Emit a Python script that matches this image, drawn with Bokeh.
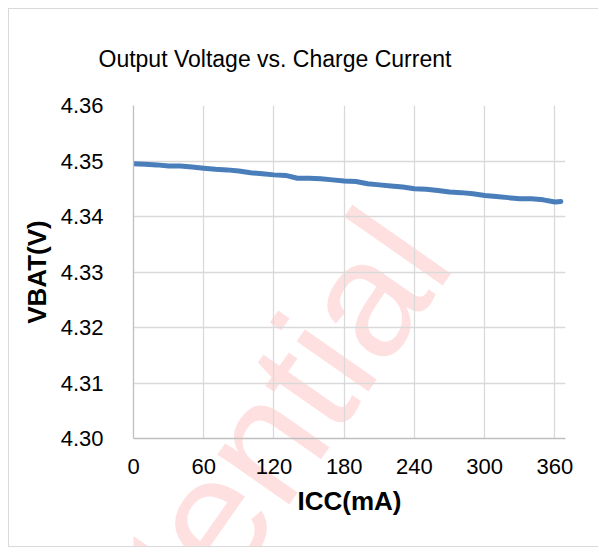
from bokeh.plotting import figure
from bokeh.layouts import column
from bokeh.models import FixedTicker, PrintfTickFormatter, Range1d, Title
from bokeh.core.properties import value
from bokeh.embed import file_html
from bokeh.resources import INLINE

# ---- data ----
icc_ma = [0, 10, 20, 30, 40, 50, 60, 70, 80, 90, 100, 110, 120, 130, 140, 150,
          160, 170, 180, 190, 200, 210, 220, 230, 240, 250, 260, 270, 280, 290,
          300, 310, 320, 330, 340, 350, 360, 365]
vbat_v = [4.3495, 4.3494, 4.3493, 4.3491, 4.3491, 4.3489, 4.3487, 4.3485, 4.3484,
          4.3482, 4.3479, 4.3477, 4.3475, 4.3474, 4.3469, 4.3469, 4.3468, 4.3466,
          4.3464, 4.3463, 4.3459, 4.3457, 4.3455, 4.3453, 4.3450, 4.3449, 4.3447,
          4.3444, 4.3443, 4.3441, 4.3438, 4.3436, 4.3434, 4.3432, 4.3432, 4.3430,
          4.3426, 4.3427]
x_ticks = [0, 60, 120, 180, 240, 300, 360]
y_ticks = [4.30, 4.31, 4.32, 4.33, 4.34, 4.35, 4.36]
title_text = "Output Voltage vs. Charge Current"
x_label = "ICC(mA)"
y_label = "VBAT(V)"
watermark = ["Confidential"]

FONT = "Liberation Sans"
W, H = 590, 539

# ---- background layer: watermark ----
p_wm = figure(width=W, height=H, output_backend="svg", toolbar_location=None,
              x_range=Range1d(0, W), y_range=Range1d(0, H),
              x_axis_type=None, y_axis_type=None, min_border=0)
p_wm.outline_line_color = None
p_wm.grid.visible = False
p_wm.text(x=[378], y=[317], text=watermark, angle=55, angle_units="deg",
          text_align="right", text_baseline="alphabetic",
          text_font=value(FONT), text_font_size="166px",
          text_color="#ff0000", text_alpha=0.12)
p_wm.styles = {"margin-left": "8px", "margin-top": "8px",
               "border-top": "1px solid #d9d9d9",
               "border-left": "1px solid #d9d9d9",
               "border-bottom": "1px solid #d9d9d9"}

# ---- chart layer ----
p = figure(width=W, height=H, output_backend="svg", toolbar_location=None,
           x_range=Range1d(0, 369), y_range=Range1d(4.30, 4.36),
           min_border_left=124, min_border_right=34, min_border_top=96,
           min_border_bottom=110)
p.styles = {"position": "absolute", "left": "9px", "top": "9px"}
p.outline_line_color = None
p.background_fill_alpha = 0
p.border_fill_alpha = 0

p.title = Title(text=title_text, align="left", offset=-35, standoff=67,
                vertical_align="bottom", text_font=FONT, text_font_size="23px",
                text_font_style="normal", text_color="black")

p.line(icc_ma, vbat_v, line_color="#4A7EBB", line_width=5, line_join="round",
       line_cap="round")

for g in (p.xgrid, p.ygrid):
    g.grid_line_color = "#d9d9d9"
    g.grid_line_width = 1.3

p.xaxis.ticker = FixedTicker(ticks=x_ticks)
p.yaxis.ticker = FixedTicker(ticks=y_ticks)
p.yaxis.formatter = PrintfTickFormatter(format="%.2f")
for ax in (p.xaxis[0], p.yaxis[0]):
    ax.axis_line_color = "#bfbfbf"
    ax.axis_line_width = 1.3
    ax.major_tick_line_color = None
    ax.minor_tick_line_color = None
    ax.major_label_text_font = FONT
    ax.major_label_text_font_size = "22px"
    ax.major_label_text_color = "black"
    ax.axis_label_text_font = FONT
    ax.axis_label_text_font_size = "26px"
    ax.axis_label_text_font_style = "bold"
    ax.axis_label_text_color = "black"
p.xaxis.axis_label = x_label
p.yaxis.axis_label = y_label
p.xaxis.major_label_standoff = 14
p.yaxis.major_label_standoff = 24
p.xaxis.axis_label_standoff = 9
p.yaxis.axis_label_standoff = 6

layout = column(p_wm, p)
open("out.html", "w").write(file_html(layout, INLINE))
